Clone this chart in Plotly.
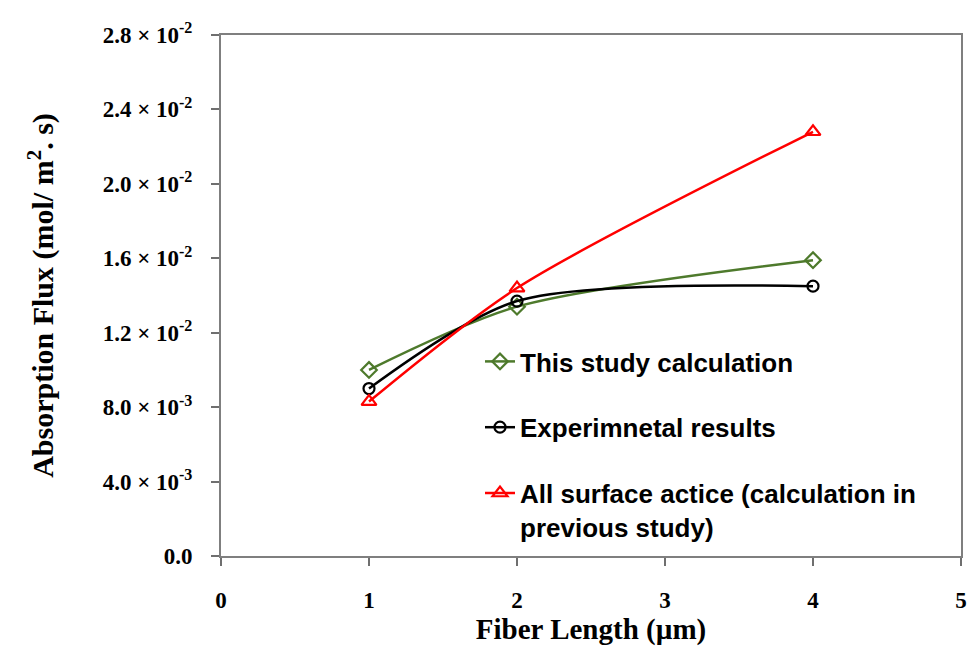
import plotly.graph_objects as go

fiber_length = [1, 2, 4]
this_study = [0.0100, 0.0134, 0.0159]
experimental = [0.0090, 0.0137, 0.0145]
all_surface = [0.0083, 0.0144, 0.0228]

y_tickvals = [0, 0.004, 0.008, 0.012, 0.016, 0.020, 0.024, 0.028]
y_ticktext = ["0.0", "4.0 × 10<sup>-3</sup>", "8.0 × 10<sup>-3</sup>", "1.2 × 10<sup>-2</sup>",
              "1.6 × 10<sup>-2</sup>", "2.0 × 10<sup>-2</sup>", "2.4 × 10<sup>-2</sup>", "2.8 × 10<sup>-2</sup>"]
x_tickvals = [0, 1, 2, 3, 4, 5]

series_names = ["This study calculation", "Experimnetal results",
                "All surface actice (calculation in<br>previous study)"]

fig = go.Figure()
styles = [
    (this_study, "#4E7A2C", "diamond-open", 12),
    (experimental, "#000000", "circle-open", 11),
    (all_surface, "#FF0000", "triangle-up-open", 13),
]
for i, (vals, col, sym, sz) in enumerate(styles):
    fig.add_trace(go.Scatter(
        x=fiber_length, y=vals, mode="lines+markers", name=series_names[i],
        legendgroup=f"g{i}",
        line=dict(color=col, width=2.5, shape="spline", smoothing=0.8),
        marker=dict(symbol=sym, size=sz, color=col, line=dict(width=2.2, color=col)),
    ))

fig.update_layout(
    width=968, height=647,
    margin=dict(l=221, r=7, t=35, b=91, autoexpand=False),
    paper_bgcolor="white", plot_bgcolor="white",
    showlegend=True,
    legend=dict(
        x=(480 - 221) / 740, y=(556 - 338) / 521, xanchor="left", yanchor="top",
        traceorder="grouped", tracegroupgap=29, valign="top",
        font=dict(family="Liberation Sans, Arial", size=26, color="black", weight="bold"),
        bgcolor="rgba(0,0,0,0)",
    ),
)
fig.update_xaxes(
    range=[0, 5], tickvals=x_tickvals, ticks="outside", ticklen=8, tickwidth=1.5, tickcolor="#6f6f6f",
    showline=True, linecolor="#7f7f7f", linewidth=2, mirror=True, showgrid=False, zeroline=False,
    automargin=False,
    tickfont=dict(family="Liberation Serif, Times New Roman", size=23, color="black", weight="bold"),
    ticklabelstandoff=14,
    title=dict(text="Fiber Length (µm)", standoff=1,
               font=dict(family="Liberation Serif, Times New Roman", size=29, color="black", weight="bold")),
)
fig.update_yaxes(
    range=[0, 0.028], tickvals=y_tickvals, ticktext=y_ticktext, ticks="outside", ticklen=8, tickwidth=1.5,
    tickcolor="#6f6f6f",
    showline=True, linecolor="#7f7f7f", linewidth=2, mirror=True, showgrid=False, zeroline=False,
    automargin=False,
    tickfont=dict(family="Liberation Serif, Times New Roman", size=23, color="black", weight="bold"),
    ticklabelstandoff=14,
    title=dict(text="Absorption Flux (mol/ m<sup>2</sup>. s)", standoff=40,
               font=dict(family="Liberation Serif, Times New Roman", size=30, color="black", weight="bold")),
)

fig.write_html("out.html")
